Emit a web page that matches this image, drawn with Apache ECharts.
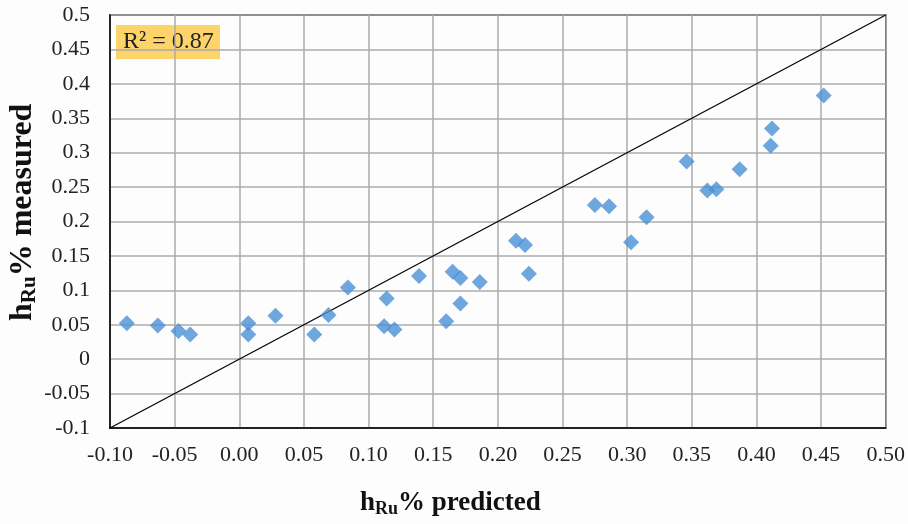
<!DOCTYPE html>
<html>
<head>
<meta charset="utf-8">
<script src="https://cdn.jsdelivr.net/npm/echarts@6/dist/echarts.min.js"></script>
<style>
  html, body { margin: 0; padding: 0; background: #fdfdfd; }
  #chart { width: 908px; height: 524px; }
</style>
</head>
<body>
<div id="chart"></div>
<script>
// predicted vs measured hRu%
const predicted = [-0.087, -0.063, -0.047, -0.038, 0.007, 0.007, 0.028, 0.058, 0.069, 0.084,
  0.114, 0.112, 0.120, 0.139, 0.160, 0.165, 0.171, 0.171, 0.186, 0.214, 0.221, 0.224,
  0.275, 0.286, 0.303, 0.315, 0.346, 0.362, 0.369, 0.387, 0.411, 0.412, 0.452]
const measured = [0.052, 0.049, 0.041, 0.036, 0.052, 0.036, 0.063, 0.036, 0.064, 0.104,
  0.088, 0.048, 0.043, 0.121, 0.055, 0.127, 0.118, 0.081, 0.112, 0.172, 0.166, 0.124,
  0.224, 0.222, 0.170, 0.206, 0.287, 0.245, 0.247, 0.276, 0.310, 0.335, 0.383]
const identityLine = [[-0.1, -0.1], [0.5, 0.5]]
const r2Label = 'R² = 0.87'

const chart = echarts.init(document.getElementById('chart'))
const serif = '"Liberation Serif", "DejaVu Serif", serif'

const titleRich = (size) => ({
  b: { fontFamily: serif, fontWeight: 'bold', fontSize: size, fill: '#111' },
  s: { fontFamily: serif, fontWeight: 'bold', fontSize: Math.round(size * 0.65), fill: '#111', padding: [Math.round(size * 0.45), 0, 0, 0] }
})

chart.setOption({
  backgroundColor: '#fdfdfd',
  animation: false,
  grid: { left: 110, right: 21, top: 15, bottom: 96, show: true, borderColor: '#000', borderWidth: 1.5 },
  xAxis: {
    type: 'value',
    min: -0.1,
    max: 0.5,
    interval: 0.05,
    axisLine: { onZero: false, lineStyle: { color: '#000', width: 1.5 } },
    axisTick: { show: false },
    splitLine: { lineStyle: { color: '#ababab', width: 1.5 } },
    axisLabel: {
      color: '#222', fontFamily: serif, fontSize: 22, margin: 16,
      formatter: (v) => v.toFixed(2)
    }
  },
  yAxis: {
    type: 'value',
    min: -0.1,
    max: 0.5,
    interval: 0.05,
    axisLine: { onZero: false, lineStyle: { color: '#000', width: 1.5 } },
    axisTick: { show: false },
    splitLine: { lineStyle: { color: '#ababab', width: 1.5 } },
    axisLabel: {
      color: '#222', fontFamily: serif, fontSize: 22, margin: 20,
      formatter: (v) => String(parseFloat(v.toFixed(2)))
    }
  },
  graphic: [
    {
      type: 'text',
      left: 360,
      top: 490,
      style: { text: '{b|h}{s|Ru}{b|% predicted}', rich: titleRich(27) }
    },
    {
      type: 'text',
      x: 5,
      y: 321,
      rotation: Math.PI / 2,
      style: { text: '{b|h}{s|Ru}{b|% measured}', rich: titleRich(32) }
    },
    {
      type: 'rect',
      left: 116,
      top: 25,
      shape: { width: 104, height: 34 },
      style: { fill: '#fcd46a' }
    },
    {
      type: 'text',
      left: 123,
      top: 30,
      style: { text: r2Label, fontFamily: serif, fontSize: 24, fill: '#222' }
    }
  ],
  series: [
    {
      type: 'line',
      data: identityLine,
      symbol: 'none',
      lineStyle: { color: '#000', width: 1.2 },
      z: 3
    },
    {
      type: 'scatter',
      data: predicted.map((x, i) => [x, measured[i]]),
      symbol: 'diamond',
      symbolSize: 16,
      itemStyle: { color: '#4a90d6' },
      z: 4
    }
  ]
})
</script>
</body>
</html>
